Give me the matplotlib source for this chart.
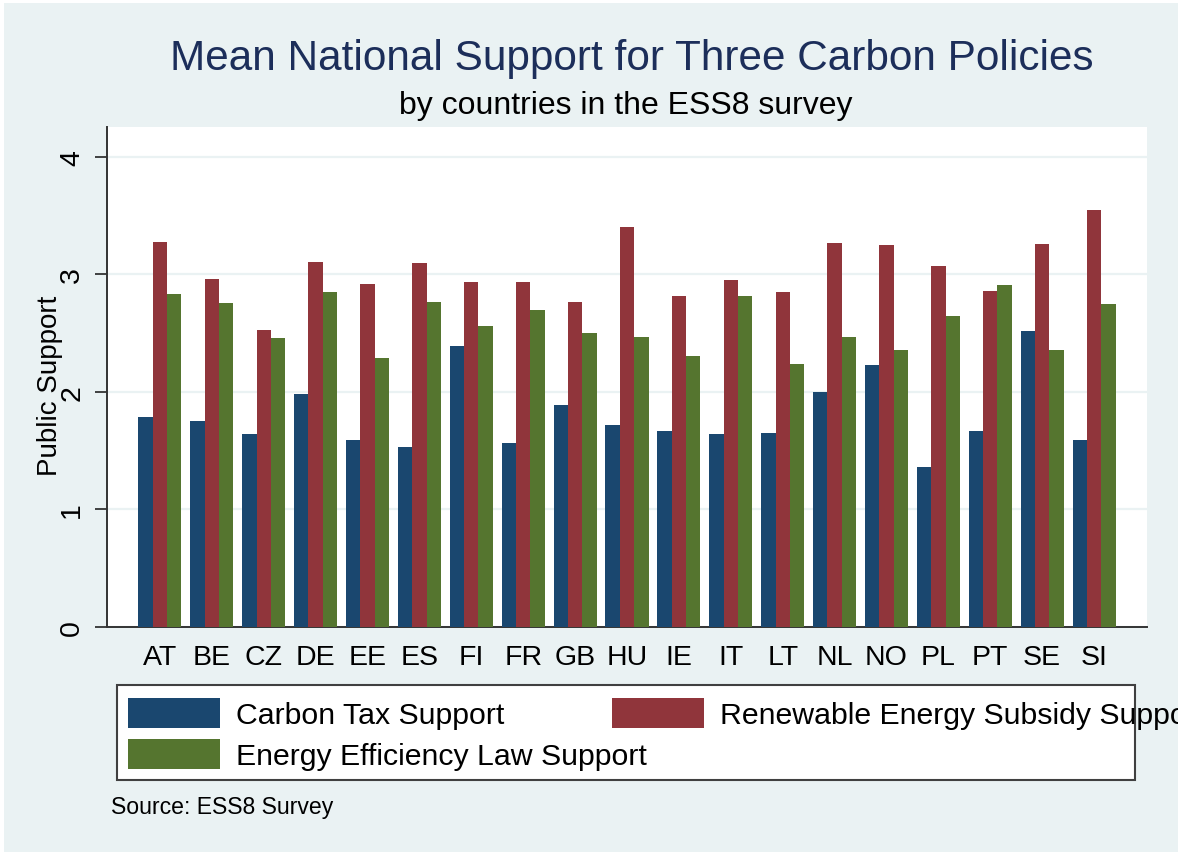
import matplotlib
matplotlib.use("Agg")
import matplotlib.pyplot as plt
from matplotlib.patches import Rectangle
import numpy as np

countries = ["AT", "BE", "CZ", "DE", "EE", "ES", "FI", "FR", "GB", "HU",
             "IE", "IT", "LT", "NL", "NO", "PL", "PT", "SE", "SI"]
carbon_tax = [1.79, 1.75, 1.64, 1.98, 1.59, 1.53, 2.39, 1.57, 1.89, 1.72,
              1.67, 1.64, 1.65, 2.00, 2.23, 1.36, 1.67, 2.52, 1.59]
renewable = [3.28, 2.96, 2.53, 3.11, 2.92, 3.10, 2.94, 2.94, 2.77, 3.40,
             2.82, 2.95, 2.85, 3.27, 3.25, 3.07, 2.86, 3.26, 3.55]
efficiency = [2.83, 2.76, 2.46, 2.85, 2.29, 2.77, 2.56, 2.70, 2.50, 2.47,
              2.31, 2.82, 2.24, 2.47, 2.36, 2.65, 2.91, 2.36, 2.75]
series_names = ["Carbon Tax Support", "Renewable Energy Subsidy Support",
                "Energy Efficiency Law Support"]
y_ticks = [0, 1, 2, 3, 4]

plt.rcParams['font.family'] = ['Liberation Sans', 'DejaVu Sans']

W, H = 1178, 853
BG = '#EAF2F3'
C_BLUE, C_RED, C_GREEN = '#1A476F', '#90353B', '#55752F'

fig = plt.figure(figsize=(W / 100, H / 100), dpi=100, facecolor=BG)

def fx(x):
    return x / W

def fy(y):
    return 1 - y / H

# thin white frame on top / left
fig.add_artist(Rectangle((0, fy(4)), 1, 4 / H, transform=fig.transFigure,
                         facecolor='white', edgecolor='none'))
fig.add_artist(Rectangle((0, 0), 4 / W, 1, transform=fig.transFigure,
                         facecolor='white', edgecolor='none'))

left, right, top, bottom = 107, 1147, 128, 628
ax = fig.add_axes([fx(left), fy(bottom), (right - left) / W, (bottom - top) / H])
ax.set_facecolor('white')

x = np.arange(len(countries))
bw = 0.277
ax.bar(x - bw, carbon_tax, bw, color=C_BLUE, zorder=3, label=series_names[0])
ax.bar(x, renewable, bw, color=C_RED, zorder=3, label=series_names[1])
ax.bar(x + bw, efficiency, bw, color=C_GREEN, zorder=3, label=series_names[2])

ax.set_xlim(-1.02, 19.02)
ax.set_ylim(0, 4.255)
ax.set_yticks(y_ticks)
ax.set_yticklabels([str(t) for t in y_ticks], rotation=90, va='center', fontsize=20.5)
ax.set_xticks(x)
ax.set_xticklabels(countries, fontsize=20.5)
ax.tick_params(axis='x', length=0, pad=12)
ax.tick_params(axis='y', length=8.6, width=1.3, color='#333333', pad=7)
ax.yaxis.grid(True, color=BG, linewidth=1.6, zorder=0)
ax.set_axisbelow(True)
for s in ['top', 'right']:
    ax.spines[s].set_visible(False)
for s in ['left', 'bottom']:
    ax.spines[s].set_color('#333333')
    ax.spines[s].set_linewidth(1.4)

fig.text(fx(50), fy(386), "Public Support", rotation=90, ha='center', va='center',
         fontsize=20, color='black')

# titles
fig.text(fx(632), fy(59), "Mean National Support for Three Carbon Policies",
         ha='center', va='center', fontsize=30.4, color='#1C2E5A')
fig.text(fx(626), fy(106), "by countries in the ESS8 survey",
         ha='center', va='center', fontsize=23, color='black')

# legend
fig.add_artist(Rectangle((fx(117), fy(781)), (1135 - 117) / W, (781 - 686) / H,
                         transform=fig.transFigure, facecolor='white',
                         edgecolor='#404040', linewidth=1.5))
legend_items = [(series_names[0], C_BLUE, 128, 699, 236),
                (series_names[1], C_RED, 612, 699, 720),
                (series_names[2], C_GREEN, 128, 740, 236)]
for name, col, sx, sy, tx in legend_items:
    fig.add_artist(Rectangle((fx(sx), fy(sy + 30)), 92 / W, 30 / H,
                             transform=fig.transFigure, facecolor=col,
                             edgecolor='none'))
    fig.text(fx(tx), fy(sy + 17), name, ha='left', va='center',
             fontsize=21.8, color='black')

fig.text(fx(111), fy(808), "Source: ESS8 Survey", ha='left', va='center',
         fontsize=16.6, color='black')

fig.savefig("out.png", dpi=100, facecolor=BG)
